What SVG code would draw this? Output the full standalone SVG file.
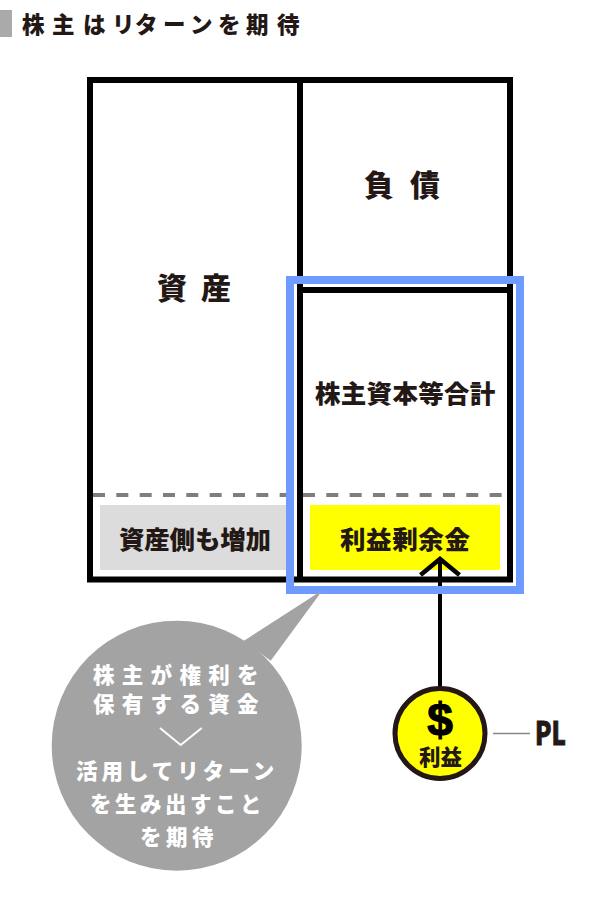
<svg xmlns="http://www.w3.org/2000/svg" width="600" height="900" viewBox="0 0 600 900">
<style>
text{font-family:"Noto Sans CJK JP","Noto Sans",sans-serif;font-weight:900;fill:#231815}
.w{fill:#fff;font-size:21.500px}
.box{fill:none;stroke:#000;stroke-width:6}
.lbl{font-size:25.500px}
</style>
<rect width="600" height="900" fill="#fff"/>
<g id="title">
<rect x="0" y="10" width="12" height="27" fill="#aaa"/>
<text x="22 52 83 112 135 163 190 218 246 277" y="33" font-size="22.500">株主はリターンを期待</text>
</g>
<g id="asset-increase"><rect x="100" y="505" width="190" height="65" fill="#dcdcdc"/><text class="lbl" x="119" y="549" textLength="152">資産側も増加</text></g>
<g id="retained-earnings"><rect x="310" y="505" width="190" height="65" fill="#ff0"/><text class="lbl" x="340" y="549" textLength="130">利益剰余金</text></g>
<g id="balance-sheet">
<rect class="box" x="90" y="80" width="420" height="499.500"/>
<path class="box" d="M300 80V579.500M300 290H510"/>
</g>
<g id="assets"><text x="157" y="299" font-size="30" letter-spacing="14">資産</text></g>
<g id="liabilities"><text x="364" y="196" font-size="30" letter-spacing="16">負債</text></g>
<g id="equity"><text x="315" y="403" font-size="25.500" letter-spacing="0.300">株主資本等合計</text></g>
<g id="connectors">
<path d="M93 495H507" fill="none" stroke="#827d78" stroke-width="4" stroke-dasharray="12 11.330"/>
<path d="M440 688V559" fill="none" stroke="#000" stroke-width="4"/>
<path d="M420.500 575L440 559L459.500 575" fill="none" stroke="#000" stroke-width="4.500"/>
<path d="M493 733.500H530" fill="none" stroke="#888" stroke-width="1.500"/>
</g>
<g id="equity-highlight"><rect x="290" y="280" width="230" height="310" fill="none" stroke="#6e9bff" stroke-width="8"/></g>
<g id="bubble">
<path d="M244 640.700L322.700 590L270.700 660.700Z" fill="#a3a3a3"/>
<circle cx="176.700" cy="745.700" r="125" fill="#a3a3a3"/>
<text class="w" x="93" y="683" letter-spacing="7.300">株主が権利を</text>
<text class="w" x="93" y="712" letter-spacing="7.300">保有する資金</text>
<path d="M160 728L180.700 745L201.700 728" fill="none" stroke="#fff" stroke-width="2"/>
<text class="w" x="76" y="779" letter-spacing="4">活用してリターン</text>
<text class="w" x="90" y="812" letter-spacing="3.500">を生み出すこと</text>
<text class="w" x="140" y="845" letter-spacing="4.500">を期待</text>
</g>
<g id="profit-coin">
<circle cx="440" cy="733.500" r="45" fill="#ff0" stroke="#231815" stroke-width="5"/>
<text x="440" y="736" text-anchor="middle" font-size="46" stroke="#000" stroke-width="1.200" style="font-family:'Liberation Sans',sans-serif;font-weight:700;fill:#000">$</text>
<text x="419" y="765" font-size="21.500">利益</text>
</g>
<g id="pl"><text x="535" y="745" font-size="32" textLength="31" lengthAdjust="spacingAndGlyphs" stroke="#231815" stroke-width="0.800">PL</text></g>
</svg>
